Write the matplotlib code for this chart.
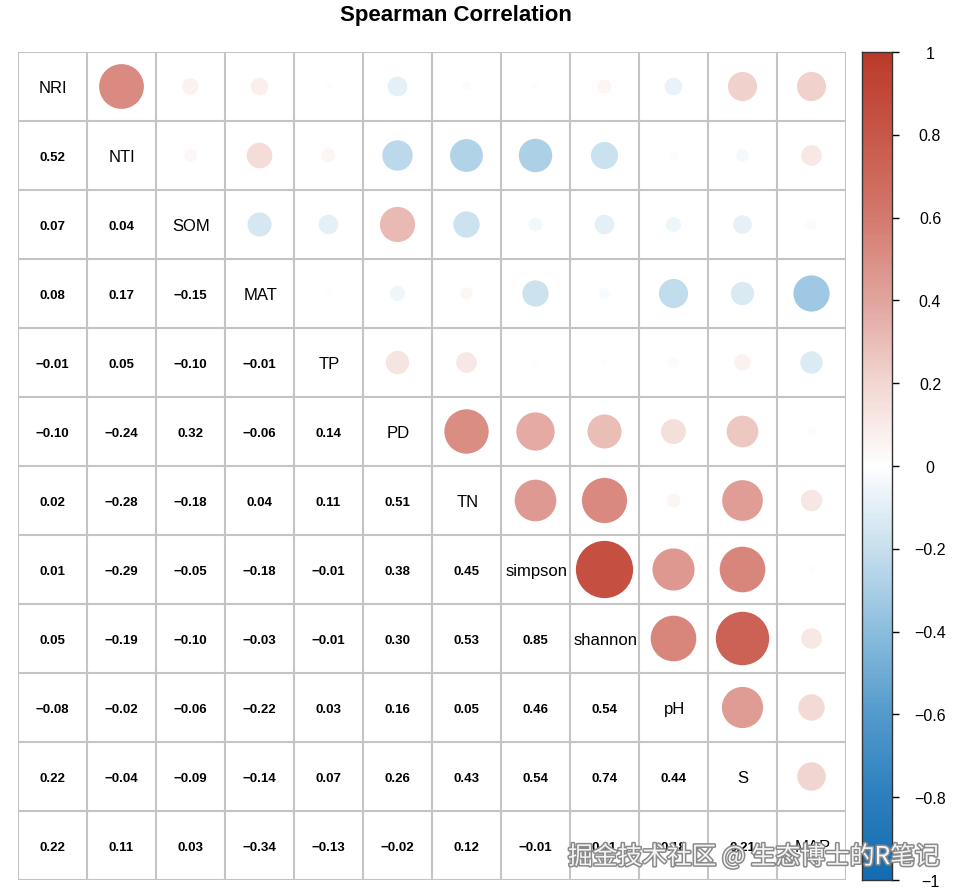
import numpy as np
import matplotlib
matplotlib.use('Agg')
import matplotlib.pyplot as plt
from matplotlib.colors import LinearSegmentedColormap
from matplotlib.patches import Circle
import matplotlib.patheffects as pe
import matplotlib.transforms as mtransforms

plt.rcParams['font.family'] = ['Liberation Sans', 'DejaVu Sans']

labels = ['NRI', 'NTI', 'SOM', 'MAT', 'TP', 'PD', 'TN', 'simpson', 'shannon', 'pH', 'S', 'MAP']

row_NTI = [0.52]
row_SOM = [0.07, 0.04]
row_MAT = [0.08, 0.17, -0.15]
row_TP = [-0.01, 0.05, -0.10, -0.01]
row_PD = [-0.10, -0.24, 0.32, -0.06, 0.14]
row_TN = [0.02, -0.28, -0.18, 0.04, 0.11, 0.51]
row_simpson = [0.01, -0.29, -0.05, -0.18, -0.01, 0.38, 0.45]
row_shannon = [0.05, -0.19, -0.10, -0.03, -0.01, 0.30, 0.53, 0.85]
row_pH = [-0.08, -0.02, -0.06, -0.22, 0.03, 0.16, 0.05, 0.46, 0.54]
row_S = [0.22, -0.04, -0.09, -0.14, 0.07, 0.26, 0.43, 0.54, 0.74, 0.44]
row_MAP = [0.22, 0.11, 0.03, -0.34, -0.13, -0.02, 0.12, -0.01, 0.11, 0.18, 0.21]

lower_rows = [[], row_NTI, row_SOM, row_MAT, row_TP, row_PD, row_TN,
              row_simpson, row_shannon, row_pH, row_S, row_MAP]

cbar_ticks = [1, 0.8, 0.6, 0.4, 0.2, 0, -0.2, -0.4, -0.6, -0.8, -1]
cbar_ticklabels = ['1', '0.8', '0.6', '0.4', '0.2', '0',
                   '\u22120.2', '\u22120.4', '\u22120.6', '\u22120.8', '\u22121']

n = len(labels)
M = np.eye(n)
for i, row in enumerate(lower_rows):
    for j, v in enumerate(row):
        M[i, j] = v
        M[j, i] = v

stops = [(-1.0, '#146CB2'), (-0.8, '#2D80BE'), (-0.6, '#559BCD'), (-0.4, '#8CBEDE'),
         (-0.2, '#C8E0EE'), (0.0, '#FFFFFF'), (0.2, '#F2D7D2'), (0.4, '#E2A59E'),
         (0.6, '#D47A6E'), (0.8, '#C8584A'), (1.0, '#BC3A2A')]
cmap = LinearSegmentedColormap.from_list('corr', [((v + 1) / 2, c) for v, c in stops])

W, H = 965, 896
fig = plt.figure(figsize=(W / 100, H / 100), dpi=100)

gx0, gx1, gy0, gy1 = 18, 846, 52, 880
ax = fig.add_axes([gx0 / W, 1 - gy1 / H, (gx1 - gx0) / W, (gy1 - gy0) / H])
ax.set_xlim(0, n)
ax.set_ylim(n, 0)
ax.axis('off')

grid_col = '#C4C4C4'
for k in range(n + 1):
    ax.plot([k, k], [0, n], color=grid_col, lw=1.5, zorder=1, solid_capstyle='projecting')
    ax.plot([0, n], [k, k], color=grid_col, lw=1.5, zorder=1, solid_capstyle='projecting')

dy = 0.035
for i in range(n):
    for j in range(n):
        cx, cy = j + 0.5, i + 0.5
        v = M[i, j]
        if i == j:
            ax.text(cx + 0.01, cy + dy, labels[i], ha='center', va='center', fontsize=12, color='black', zorder=3)
        elif j > i:
            r = 0.45 * np.sqrt(abs(v))
            if r > 0:
                ax.add_patch(Circle((cx, cy), r, facecolor=cmap((v + 1) / 2), edgecolor='none', zorder=2))
        else:
            s = f'{v:.2f}'.replace('-', '\u2212')
            ax.text(cx, cy + dy, s, ha='center', va='center', fontsize=9.5, fontweight='bold', color='black', zorder=3)

fig.text(456 / W, 1 - 16 / H, 'Spearman Correlation', ha='center', va='center',
         fontsize=16, fontweight='bold')

cx0, cx1 = 862, 892
cax = fig.add_axes([cx0 / W, 1 - gy1 / H, (cx1 - cx0) / W, (gy1 - gy0) / H])
grad = np.linspace(1, -1, 400).reshape(-1, 1)
cax.imshow(grad, cmap=cmap, vmin=-1, vmax=1, aspect='auto', extent=[0, 1, -1, 1])
cax.set_xlim(0, 1)
cax.set_ylim(-1, 1)
cax.set_xticks([])
cax.yaxis.tick_right()
cax.set_yticks(cbar_ticks)
cax.set_yticklabels([])
cax.tick_params(axis='y', length=5, width=1, color='black')
for sp in cax.spines.values():
    sp.set_color('#333333')
    sp.set_linewidth(1)
trans = mtransforms.blended_transform_factory(cax.transAxes, cax.transData)
for v, lab in zip(cbar_ticks, cbar_ticklabels):
    cax.text((930 - cx0) / (cx1 - cx0), v - 0.005, lab, transform=trans, ha='center', va='center',
             fontsize=11.5, clip_on=False)

fig.text(754 / W, 1 - 857 / H, '掘金技术社区 @ 生态博士的R笔记', ha='center', va='center',
         fontsize=17.8, color='#F4F4F4', family=['Noto Sans CJK SC', 'DejaVu Sans'],
         path_effects=[pe.withStroke(linewidth=2.2, foreground='#8A8A8A')], zorder=10)

fig.savefig('out.png', dpi=100)
